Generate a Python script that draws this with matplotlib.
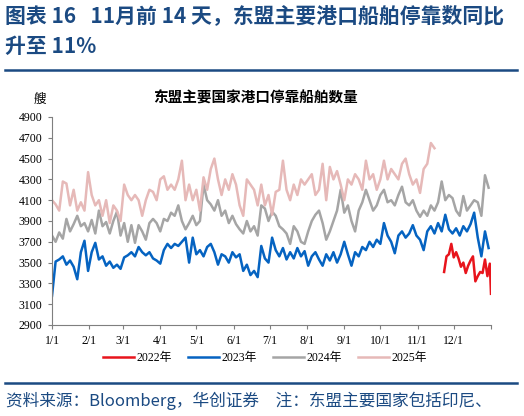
import numpy as np
import matplotlib
matplotlib.use('Agg')
import matplotlib.pyplot as plt

plt.rcParams['font.family'] = ['Liberation Serif', 'Noto Sans CJK SC', 'DejaVu Sans']

# data, one point every 3 days from 1/1
v2023 = [3180, 3510, 3530, 3560, 3480, 3520, 3460, 3340, 3600, 3710, 3420, 3600, 3690, 3530,
         3560, 3470, 3510, 3450, 3480, 3440, 3550, 3570, 3600, 3560, 3650, 3600, 3570, 3600,
         3540, 3520, 3490, 3620, 3680, 3640, 3680, 3660, 3700, 3740, 3500, 3740, 3580, 3620,
         3560, 3650, 3680, 3600, 3480, 3580, 3560, 3500, 3600, 3550, 3580, 3420, 3480, 3380,
         3420, 3360, 3660, 3540, 3500, 3740, 3620, 3560, 3640, 3530, 3600, 3540, 3640, 3560,
         3610, 3470, 3560, 3600, 3530, 3470, 3580, 3520, 3600, 3500, 3580, 3700, 3580, 3470,
         3600, 3560, 3650, 3620, 3700, 3650, 3720, 3680, 3880, 3760, 3700, 3590, 3760, 3800,
         3740, 3780, 3860, 3760, 3720, 3620, 3800, 3850, 3780, 3880, 3800, 3960, 3820, 3780,
         3830, 3760, 3850, 3800, 3870, 3980, 3740, 3560, 3800, 3640]
v2024 = [3760, 3700, 3790, 3730, 3920, 3800, 3870, 3950, 3850, 3880, 3800, 3910, 3780, 4000,
         3850, 3890, 3780, 3900, 3990, 3760, 3880, 3700, 3860, 3690, 3860, 3800, 3720, 3880,
         3920, 3880, 3800, 3920, 3900, 3980, 3950, 4050, 3900, 3820, 3880, 3950, 3860, 3900,
         4250, 4100, 4060, 4000, 4100, 3950, 4000, 3880, 3950, 3870, 3820, 3780, 3900, 3800,
         3850, 3760, 4050, 4020, 3900, 3990, 3950, 3850, 3820, 3780, 3680, 3850, 3800, 3700,
         3680, 3800, 3900, 3960, 4000, 3880, 3720, 3800, 3900, 4000, 4200, 3980, 4050, 3900,
         3800, 4000, 4080, 4200, 4100, 4000, 4050, 4150, 4200, 4080, 4100, 4050, 4150, 4230,
         4080, 4050, 4100, 4000, 3940, 4000, 3950, 4050, 4000, 4080, 4280, 4100, 4150, 4120,
         4000, 3950, 4140, 4000, 4050, 4100, 4080, 3950, 4340, 4220]
v2025 = [4100, 4060, 4000, 4280, 4260, 4050, 4200, 4000, 4080, 4000, 4370, 4150, 4050, 4100,
         3950, 4100, 3880, 4050, 4000, 3900, 4250, 4150, 4100, 4150, 4100, 3950, 4100, 4200,
         4180, 4100, 4300, 4330, 4200, 4250, 4200, 4300, 4480, 4100, 4250, 4100, 4200, 4000,
         4320, 4200, 4400, 4500, 4300, 4150, 4300, 4200, 4350, 4250, 4050, 3950, 4300, 4250,
         4200, 4050, 4250, 4050, 4150, 3960, 4180, 4200, 4480, 4200, 4100, 4250, 4150, 4300,
         4250, 4300, 4350, 4150, 4200, 4450, 4100, 4420, 4300, 4380, 4250, 4100, 4300, 4250,
         4350, 4300, 4200, 4480, 4300, 4350, 4200, 4300, 4480, 4300, 4400, 4350, 4300, 4450,
         4500, 4350, 4250, 4300, 4170, 4400, 4450, 4650, 4600]
d2022 = [326, 328, 330, 332, 334, 336, 338, 340, 342, 344, 346, 348, 350, 352, 354, 356, 358,
         360, 362, 364, 365]
v2022 = [3410, 3560, 3580, 3680, 3550, 3600, 3540, 3460, 3500, 3400, 3470, 3520, 3560, 3320,
         3370, 3410, 3400, 3530, 3370, 3490, 3200]

month_starts = [0, 31, 59, 90, 120, 151, 181, 212, 243, 273, 304, 334]
month_labels = ['1/1', '2/1', '3/1', '4/1', '5/1', '6/1', '7/1', '8/1', '9/1', '10/1', '11/1', '12/1']

navy = '#1B4A82'
fig = plt.figure(figsize=(5.24, 4.16), dpi=100)
ax = fig.add_axes([52 / 524, 1 - 325 / 416, (491 - 52) / 524, (325 - 117) / 416])

ax.plot(d2022, v2022, color='#E8141C', lw=1.8, label='2022年')
ax.plot(np.arange(len(v2023)) * 3, v2023, color='#0563C1', lw=1.8, label='2023年')
ax.plot(np.arange(len(v2024)) * 3, v2024, color='#A5A5A5', lw=1.8, label='2024年')
ax.plot(np.arange(len(v2025)) * 3, v2025, color='#E6B9B8', lw=1.8, label='2025年')

ax.set_xlim(0, 365)
ax.set_ylim(2900, 4900)
ax.set_yticks(range(2900, 4901, 200))
ax.set_xticks(month_starts + [365])
ax.set_xticklabels(month_labels + [''])
ax.tick_params(labelsize=8.5, direction='out', length=3, color='#7f7f7f', pad=4)
ax.spines['top'].set_visible(False)
ax.spines['right'].set_visible(False)
for s in ('left', 'bottom'):
    ax.spines[s].set_color('#7f7f7f')

ax.legend(loc='center', bbox_to_anchor=(0.485, -0.16), ncol=4, frameon=False,
          fontsize=8.5, handlelength=2.6, columnspacing=1.4, handletextpad=0.2)

fig.text(0.009, 1 - 16 / 416, '图表 16   11月前 14 天，东盟主要港口船舶停靠数同比',
         fontsize=15, fontweight='bold', color=navy, va='center',
         family=['Noto Sans CJK SC'])
fig.text(0.009, 1 - 46 / 416, '升至 11%', fontsize=15, fontweight='bold', color=navy,
         va='center', family=['Noto Sans CJK SC'])
fig.add_artist(plt.Line2D([5 / 524, 517 / 524], [1 - 70 / 416] * 2, color=navy, lw=1.8))
fig.text(255 / 524, 1 - 98 / 416, '东盟主要国家港口停靠船舶数量', fontsize=10.5,
         fontweight='bold', ha='center', va='center', family=['Noto Sans CJK SC'])
fig.text(40 / 524, 1 - 99 / 416, '艘', fontsize=9, ha='center', va='center',
         family=['Noto Sans CJK SC'])
fig.add_artist(plt.Line2D([5 / 524, 517 / 524], [1 - 383 / 416] * 2, color=navy, lw=1.8))
fig.text(0.012, 1 - 401 / 416, '资料来源：Bloomberg，华创证券　注：东盟主要国家包括印尼、',
         fontsize=12, color=navy, va='center', style='italic',
         family=['Noto Sans CJK SC'])

fig.savefig('out.png', dpi=100)
